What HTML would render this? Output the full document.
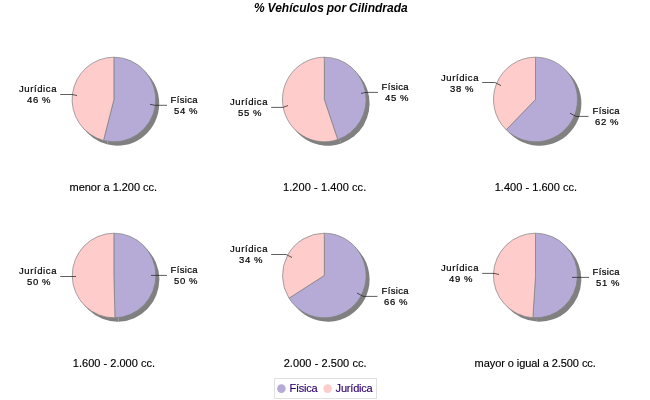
<!DOCTYPE html>
<html><head><meta charset="utf-8"><title>% Vehículos por Cilindrada</title>
<style>
html,body{margin:0;padding:0;background:#fff;}
#chart{position:relative;width:650px;height:400px;overflow:hidden;background:#fff;font-family:"Liberation Sans",Arial,sans-serif;color:#000}
#chart svg{position:absolute;left:0;top:0;display:block}
.t{position:absolute;white-space:nowrap}
.lb{font-size:9.5px;line-height:11px;letter-spacing:0.6px;-webkit-text-stroke:0.2px #000}
.sub{font-size:11px;line-height:13px;-webkit-text-stroke:0.15px #000}
.ttl{font-size:12px;line-height:14px;font-weight:bold;font-style:italic;word-spacing:-0.4px}
.lg{font-size:11px;line-height:13px;color:#2e006c;letter-spacing:-0.15px;-webkit-text-stroke:0.15px #2e006c}
</style></head><body>
<div id="chart">
<svg width="650" height="400" viewBox="0 0 650 400">
<g transform="translate(3.5,3.9)" fill="#808080"><path d="M113.9,99.5 L113.9,57.2 A41.8,42.3 0 1 1 103.50,140.47 Z"/><path d="M113.9,99.5 L103.50,140.47 A41.8,42.3 0 0 1 113.9,57.2 Z"/></g>
<path d="M113.9,99.5 L113.9,57.2 A41.8,42.3 0 1 1 103.50,140.47 Z" fill="#b6abd7" stroke="#808080" stroke-width="0.7"/>
<path d="M113.9,99.5 L103.50,140.47 A41.8,42.3 0 0 1 113.9,57.2 Z" fill="#ffcccc" stroke="#808080" stroke-width="0.7"/>
<polyline points="60.2,94.5 72,94.5 77,95.5" fill="none" stroke="#1a1a1a" stroke-width="0.7"/>
<polyline points="150,104.3 155,105.3 167,105.3" fill="none" stroke="#1a1a1a" stroke-width="0.7"/>
<g transform="translate(3.5,3.9)" fill="#808080"><path d="M324.3,99.5 L324.3,57.2 A41.8,42.3 0 0 1 337.72,139.56 Z"/><path d="M324.3,99.5 L337.72,139.56 A41.8,42.3 0 1 1 324.3,57.2 Z"/></g>
<path d="M324.3,99.5 L324.3,57.2 A41.8,42.3 0 0 1 337.72,139.56 Z" fill="#b6abd7" stroke="#808080" stroke-width="0.7"/>
<path d="M324.3,99.5 L337.72,139.56 A41.8,42.3 0 1 1 324.3,57.2 Z" fill="#ffcccc" stroke="#808080" stroke-width="0.7"/>
<polyline points="271.2,107.4 283,107.4 288,105.5" fill="none" stroke="#1a1a1a" stroke-width="0.7"/>
<polyline points="361,93.4 366,92.4 378,92.4" fill="none" stroke="#1a1a1a" stroke-width="0.7"/>
<g transform="translate(3.9,3.9)" fill="#808080"><path d="M535.5,99.5 L535.5,57.2 A42.0,42.3 0 1 1 506.18,129.78 Z"/><path d="M535.5,99.5 L506.18,129.78 A42.0,42.3 0 0 1 535.5,57.2 Z"/></g>
<path d="M535.5,99.5 L535.5,57.2 A42.0,42.3 0 1 1 506.18,129.78 Z" fill="#b6abd7" stroke="#808080" stroke-width="0.7"/>
<path d="M535.5,99.5 L506.18,129.78 A42.0,42.3 0 0 1 535.5,57.2 Z" fill="#ffcccc" stroke="#808080" stroke-width="0.7"/>
<polyline points="482.2,82.5 495,82.5 501,85.6" fill="none" stroke="#1a1a1a" stroke-width="0.7"/>
<polyline points="570,113.2 576,116.4 588.5,116.4" fill="none" stroke="#1a1a1a" stroke-width="0.7"/>
<g transform="translate(3.5,3.9)" fill="#808080"><path d="M113.9,275.5 L113.9,233.2 A41.8,42.3 0 0 1 114.95,317.79 Z"/><path d="M113.9,275.5 L114.95,317.79 A41.8,42.3 0 1 1 113.9,233.2 Z"/></g>
<path d="M113.9,275.5 L113.9,233.2 A41.8,42.3 0 0 1 114.95,317.79 Z" fill="#b6abd7" stroke="#808080" stroke-width="0.7"/>
<path d="M113.9,275.5 L114.95,317.79 A41.8,42.3 0 1 1 113.9,233.2 Z" fill="#ffcccc" stroke="#808080" stroke-width="0.7"/>
<polyline points="60.2,276.5 72,276.5 76,276.5" fill="none" stroke="#1a1a1a" stroke-width="0.7"/>
<polyline points="151,275.4 155,275.4 167,275.4" fill="none" stroke="#1a1a1a" stroke-width="0.7"/>
<g transform="translate(3.5,3.9)" fill="#808080"><path d="M324.3,275.5 L324.3,233.2 A41.8,42.3 0 1 1 289.01,298.17 Z"/><path d="M324.3,275.5 L289.01,298.17 A41.8,42.3 0 0 1 324.3,233.2 Z"/></g>
<path d="M324.3,275.5 L324.3,233.2 A41.8,42.3 0 1 1 289.01,298.17 Z" fill="#b6abd7" stroke="#808080" stroke-width="0.7"/>
<path d="M324.3,275.5 L289.01,298.17 A41.8,42.3 0 0 1 324.3,233.2 Z" fill="#ffcccc" stroke="#808080" stroke-width="0.7"/>
<polyline points="271.2,254.5 286.2,254.5 292,257.5" fill="none" stroke="#1a1a1a" stroke-width="0.7"/>
<polyline points="357,293 363.3,296.4 377.5,296.4" fill="none" stroke="#1a1a1a" stroke-width="0.7"/>
<g transform="translate(3.9,3.9)" fill="#808080"><path d="M535.5,275.5 L535.5,233.2 A42.0,42.3 0 1 1 532.86,317.72 Z"/><path d="M535.5,275.5 L532.86,317.72 A42.0,42.3 0 0 1 535.5,233.2 Z"/></g>
<path d="M535.5,275.5 L535.5,233.2 A42.0,42.3 0 1 1 532.86,317.72 Z" fill="#b6abd7" stroke="#808080" stroke-width="0.7"/>
<path d="M535.5,275.5 L532.86,317.72 A42.0,42.3 0 0 1 535.5,233.2 Z" fill="#ffcccc" stroke="#808080" stroke-width="0.7"/>
<polyline points="482.2,273.4 494,273.4 499,274.5" fill="none" stroke="#1a1a1a" stroke-width="0.7"/>
<polyline points="572,277.4 576,277.4 589,277.4" fill="none" stroke="#1a1a1a" stroke-width="0.7"/>
<rect x="274.5" y="378.5" width="102" height="20" fill="#fff" stroke="#e0e0e0" stroke-width="1"/>
<circle cx="281.4" cy="388.6" r="4.3" fill="#b6abd7"/>
<circle cx="327.6" cy="388.6" r="4.3" fill="#ffcccc"/>
</svg>
<div class="t ttl" style="left:254px;top:1px">% Vehículos por Cilindrada</div>
<div class="t lb" style="left:19px;top:83px">Jurídica</div>
<div class="t lb" style="left:27px;top:94px">46 %</div>
<div class="t lb" style="left:170.5px;top:94px;letter-spacing:0.35px">Física</div>
<div class="t lb" style="left:174px;top:105px">54 %</div>
<div class="t sub" style="left:69.5px;top:181px;letter-spacing:-0.03px">menor a 1.200 cc.</div>
<div class="t lb" style="left:230px;top:96px">Jurídica</div>
<div class="t lb" style="left:238px;top:107px">55 %</div>
<div class="t lb" style="left:381.5px;top:81px;letter-spacing:0.35px">Física</div>
<div class="t lb" style="left:385px;top:92px">45 %</div>
<div class="t sub" style="left:283.0px;top:181px;letter-spacing:0.08px">1.200 - 1.400 cc.</div>
<div class="t lb" style="left:441px;top:72px">Jurídica</div>
<div class="t lb" style="left:450px;top:83px">38 %</div>
<div class="t lb" style="left:592.5px;top:105px;letter-spacing:0.35px">Física</div>
<div class="t lb" style="left:595px;top:116px">62 %</div>
<div class="t sub" style="left:494.7px;top:181px;letter-spacing:0.03px">1.400 - 1.600 cc.</div>
<div class="t lb" style="left:19px;top:265px">Jurídica</div>
<div class="t lb" style="left:27px;top:276px">50 %</div>
<div class="t lb" style="left:170.5px;top:264px;letter-spacing:0.35px">Física</div>
<div class="t lb" style="left:174px;top:275px">50 %</div>
<div class="t sub" style="left:72.8px;top:357px;letter-spacing:0.02px">1.600 - 2.000 cc.</div>
<div class="t lb" style="left:230px;top:243px">Jurídica</div>
<div class="t lb" style="left:239px;top:254px">34 %</div>
<div class="t lb" style="left:381.5px;top:285px;letter-spacing:0.35px">Física</div>
<div class="t lb" style="left:384px;top:296px">66 %</div>
<div class="t sub" style="left:283.7px;top:357px;letter-spacing:0.06px">2.000 - 2.500 cc.</div>
<div class="t lb" style="left:441px;top:262px">Jurídica</div>
<div class="t lb" style="left:449px;top:273px">49 %</div>
<div class="t lb" style="left:592.5px;top:266px;letter-spacing:0.35px">Física</div>
<div class="t lb" style="left:596px;top:277px">51 %</div>
<div class="t sub" style="left:474.6px;top:357px;letter-spacing:-0.07px">mayor o igual a 2.500 cc.</div>
<div class="t lg" style="left:289.4px;top:382px;letter-spacing:-0.22px">Física</div>
<div class="t lg" style="left:335.6px;top:382px;letter-spacing:-0.2px">Jurídica</div>
</div></body></html>
